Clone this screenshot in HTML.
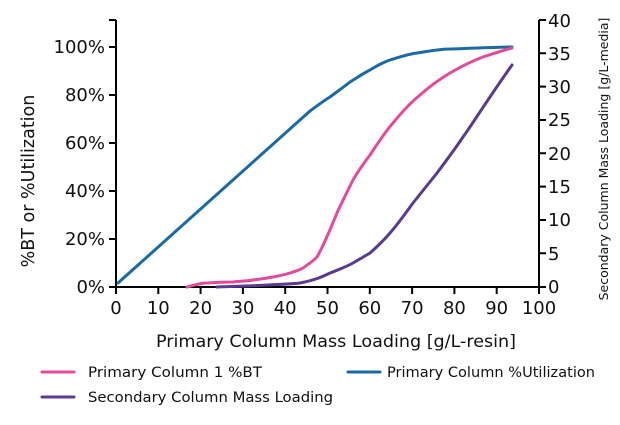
<!DOCTYPE html><html><head><style>body{margin:0;background:#fff}svg{display:block}text{font-family:"DejaVu Sans","Liberation Sans",sans-serif;fill:#111}</style></head><body>
<svg width="620" height="425" xmlns="http://www.w3.org/2000/svg">
<g stroke="#000" stroke-width="2" fill="none">
<path d="M116,20V287H539V20"/>
<path d="M109,20H116M109,47H116M109,95H116M109,143H116M109,191H116M109,239H116M109,287H116"/>
<path d="M539,20H546M539,53.3H546M539,86.6H546M539,120H546M539,153.3H546M539,186.6H546M539,220H546M539,253.3H546M539,287H546"/>
<path d="M116,287V294M158.3,287V294M200.6,287V294M242.9,287V294M285.2,287V294M327.5,287V294M369.8,287V294M412.1,287V294M454.4,287V294M496.7,287V294M539,287V294"/>
</g>
<g font-size="18" text-anchor="end">
<text x="105" y="53">100%</text><text x="105" y="101">80%</text><text x="105" y="149">60%</text><text x="105" y="197">40%</text><text x="105" y="245">20%</text><text x="105" y="293">0%</text>
</g>
<g font-size="18" text-anchor="middle">
<text x="116" y="314">0</text><text x="158.3" y="314">10</text><text x="200.6" y="314">20</text><text x="242.9" y="314">30</text><text x="285.2" y="314">40</text><text x="327.5" y="314">50</text><text x="369.8" y="314">60</text><text x="412.1" y="314">70</text><text x="454.4" y="314">80</text><text x="496.7" y="314">90</text><text x="539" y="314">100</text>
</g>
<g font-size="18">
<text x="548" y="27">40</text><text x="548" y="60">35</text><text x="548" y="93">30</text><text x="548" y="126">25</text><text x="548" y="160">20</text><text x="548" y="193">15</text><text x="548" y="226">10</text><text x="548" y="260">5</text><text x="548" y="293">0</text>
</g>
<text x="156" y="347" font-size="17" textLength="360" lengthAdjust="spacingAndGlyphs">Primary Column Mass Loading [g/L-resin]</text>
<text transform="translate(34,181) rotate(-90)" font-size="17.5" text-anchor="middle">%BT or %Utilization</text>
<text transform="translate(608,159) rotate(-90)" font-size="12.5" text-anchor="middle">Secondary Column Mass Loading [g/L-media]</text>
<g fill="none" stroke-width="3" stroke-linejoin="round" stroke-linecap="round">
<path stroke="#1a6aa6" d="M118,283L310,111C318,105 325,100 330,97C338,91 345,86 350,82C358,77 364,73 370,70C378,65 384,62 390,60C400,57 408,54 417,53C430,51 440,49 450,49C480,48 500,47 512,47"/>
<path stroke="#e4499a" d="M187,287C195,285 200,283 207,283C220,282 226,282 233,282C243,281 248,281 253,280C263,279 268,278 273,277C283,275 288,274 293,272C300,270 304,268 307,265C312,262 314,260 317,257C325,243 331,227 337,213C343,200 348,190 353,180C360,168 364,163 370,155C378,143 385,132 393,123C402,112 410,103 420,95C430,86 440,79 450,73C462,66 472,61 483,57C495,53 504,50 512,48"/>
<path stroke="#5a3a93" d="M217,287C240,286 255,286 267,285C285,284 293,284 300,283C315,280 322,277 330,273C340,269 346,267 353,263C360,259 365,256 370,253C378,246 384,240 390,233C398,224 405,214 413,203C421,193 429,183 437,173C446,161 455,149 463,137C473,123 481,110 490,97C498,85 505,75 512,65"/>
<path stroke="#e4499a" d="M42,372H74"/>
<path stroke="#5a3a93" d="M42,397H74"/>
<path stroke="#1a6aa6" d="M348,372H380"/>
</g>
<g font-size="14.5">
<text x="88" y="377" textLength="174" lengthAdjust="spacingAndGlyphs">Primary Column 1 %BT</text>
<text x="88" y="402" textLength="245" lengthAdjust="spacingAndGlyphs">Secondary Column Mass Loading</text>
<text x="387" y="377" textLength="208" lengthAdjust="spacingAndGlyphs">Primary Column %Utilization</text>
</g>
</svg>
</body></html>
